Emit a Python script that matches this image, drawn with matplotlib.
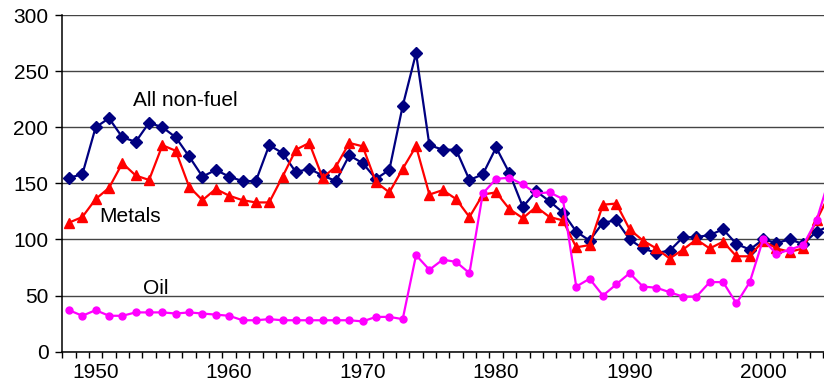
import matplotlib
matplotlib.use("Agg")
import matplotlib.pyplot as plt
from matplotlib.ticker import FixedLocator

plt.rcParams['font.family'] = ['Liberation Sans', 'DejaVu Sans']

years = list(range(1948, 2006))

non_fuel = [155, 158, 200, 208, 191, 187, 204, 200, 191, 174,
            156, 162, 156, 152, 152, 184, 177, 160, 163, 157,
            152, 175, 168, 154, 162, 219, 266, 184, 180, 180,
            153, 158, 182, 159, 129, 143, 134, 124, 107, 99,
            115, 117, 100, 92, 88, 90, 102, 102, 104, 109,
            96, 91, 100, 97, 100, 96, 107, 112]

metals = [115, 120, 136, 146, 168, 157, 153, 184, 179, 147,
          135, 145, 139, 135, 133, 133, 156, 180, 186, 155,
          165, 186, 183, 151, 142, 163, 183, 140, 144, 136,
          120, 140, 142, 127, 119, 129, 120, 117, 93, 95,
          131, 132, 109, 99, 92, 83, 91, 100, 92, 98,
          85, 85, 99, 92, 89, 92, 117, 141]

oil = [37, 32, 37, 32, 32, 35, 35, 35, 34, 35,
       34, 33, 32, 28, 28, 29, 28, 28, 28, 28,
       28, 28, 27, 31, 31, 29, 86, 73, 82, 80,
       70, 141, 154, 155, 149, 141, 142, 136, 58, 65,
       50, 60, 70, 58, 57, 53, 49, 49, 62, 62,
       43, 62, 100, 87, 91, 95, 117, 156]

year_labels = [1950, 1960, 1970, 1980, 1990, 2000]
y_ticks = [0, 50, 100, 150, 200, 250, 300]

fig = plt.figure(figsize=(8.24, 3.88), dpi=100)
ax = fig.add_axes([0.0756, 0.0936, 0.9244, 0.8677])

ax.plot(years, non_fuel, color='#000080', lw=1.6, marker='D', ms=6.5, zorder=3)
ax.plot(years, metals, color='#ff0000', lw=1.6, marker='^', ms=6.8, zorder=4)
ax.plot(years, oil, color='#ff00ff', lw=1.6, marker='o', ms=5, zorder=5)

ax.set_xlim(1947.5, 2004.56)
ax.set_ylim(0, 300)

# year ticks sit on the boundaries between years, labels in the middle
ax.set_yticks(y_ticks)
ax.set_xticks(year_labels)
ax.xaxis.set_minor_locator(FixedLocator([y + 0.5 for y in range(1947, 2005)]))
ax.tick_params(axis='x', which='major', length=0, labelsize=15, pad=8)
ax.tick_params(axis='x', which='minor', length=4, width=1, direction='out')
ax.tick_params(axis='y', which='major', length=5, width=1, labelsize=15, pad=5)

ax.grid(axis='y', color='#444444', lw=1)
ax.set_axisbelow(True)
for side in ['top', 'right']:
    ax.spines[side].set_visible(False)
for side in ['left', 'bottom']:
    ax.spines[side].set_linewidth(1.1)

ax.text(1952.8, 219, 'All non-fuel', fontsize=15, va='baseline')
ax.text(1950.25, 115.3, 'Metals', fontsize=15, va='baseline')
ax.text(1953.57, 51.4, 'Oil', fontsize=15, va='baseline')

fig.savefig('out.png', dpi=100)
